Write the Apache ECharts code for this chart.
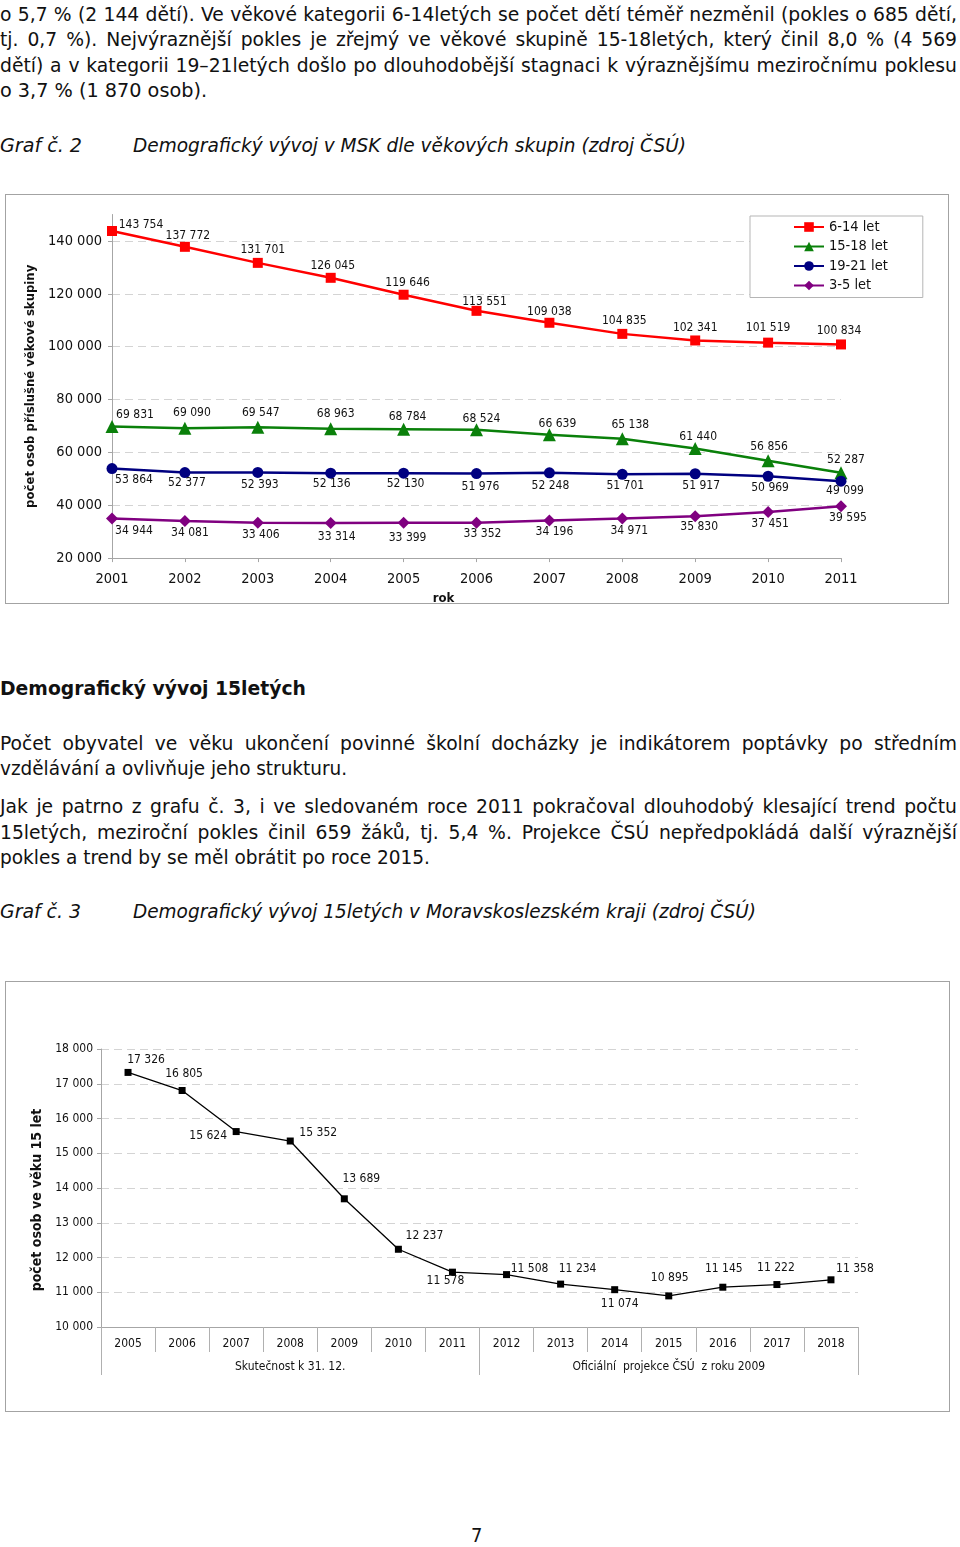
<!DOCTYPE html>
<html><head><meta charset="utf-8">
<script src="https://cdn.jsdelivr.net/npm/echarts@6/dist/echarts.min.js"></script>
<style>
html,body{margin:0;padding:0;background:#fff}
#page{position:relative;width:960px;height:1547px;overflow:hidden;font-family:"DejaVu Sans Condensed","DejaVu Sans",sans-serif;color:#111}
.ln{position:absolute;white-space:pre;font-size:20px;line-height:24px;transform-origin:0 50%;display:inline-block}
.it{font-style:italic}
.b{font-weight:bold}
.box{position:absolute;border:1px solid #a3a3a3;box-sizing:border-box;pointer-events:none}
.chart{position:absolute;left:0;width:960px}
</style></head>
<body>
<div id="page">
<div class="ln j" data-w="957" style="left:0;top:2px">o 5,7 % (2 144 dětí). Ve věkové kategorii 6-14letých se počet dětí téměř nezměnil (pokles o 685 dětí,</div>
<div class="ln j" data-w="957" style="left:0;top:27px">tj. 0,7 %). Nejvýraznější pokles je zřejmý ve věkové skupině 15-18letých, který činil 8,0 % (4 569</div>
<div class="ln j" data-w="957" style="left:0;top:53px">dětí) a v kategorii 19–21letých došlo po dlouhodobější stagnaci k výraznějšímu meziročnímu poklesu</div>
<div class="ln" data-w="207" style="left:0;top:78px">o 3,7 % (1 870 osob).</div>
<div class="ln it" data-w="82" style="left:0;top:133px">Graf č. 2</div>
<div class="ln it" data-w="553" style="left:133px;top:133px">Demografický vývoj v MSK dle věkových skupin (zdroj ČSÚ)</div>

<div class="ln b" data-w="306" style="left:0;top:676px">Demografický vývoj 15letých</div>
<div class="ln j" data-w="957" style="left:0;top:731px">Počet obyvatel ve věku ukončení povinné školní docházky je indikátorem poptávky po středním</div>
<div class="ln" data-w="347" style="left:0;top:756px">vzdělávání a ovlivňuje jeho strukturu.</div>
<div class="ln j" data-w="957" style="left:0;top:794px">Jak je patrno z grafu č. 3, i ve sledovaném roce 2011 pokračoval dlouhodobý klesající trend počtu</div>
<div class="ln j" data-w="957" style="left:0;top:820px">15letých, meziroční pokles činil 659 žáků, tj. 5,4 %. Projekce ČSÚ nepředpokládá další výraznější</div>
<div class="ln" data-w="430" style="left:0;top:845px">pokles a trend by se měl obrátit po roce 2015.</div>
<div class="ln it" data-w="81" style="left:0;top:899px">Graf č. 3</div>
<div class="ln it" data-w="623" style="left:133px;top:899px">Demografický vývoj 15letých v Moravskoslezském kraji (zdroj ČSÚ)</div>
<div class="ln" style="left:471px;top:1523px">7</div>

<div id="c1" class="chart" style="top:190px;height:420px"></div>
<div class="box" style="left:5px;top:194px;width:944px;height:410px"></div>
<div id="c2" class="chart" style="top:975px;height:440px"></div>
<div class="box" style="left:5px;top:981px;width:945px;height:431px"></div>
</div>
<script>
// ---- data: Graf č. 2 ----
const years1 = ['2001','2002','2003','2004','2005','2006','2007','2008','2009','2010','2011'];
const age6to14  = [143754,137772,131701,126045,119646,113551,109038,104835,102341,101519,100834];
const age15to18 = [69831,69090,69547,68963,68784,68524,66639,65138,61440,56856,52287];
const age19to21 = [53864,52377,52393,52136,52130,51976,52248,51701,51917,50969,49099];
const age3to5   = [34944,34081,33406,33314,33399,33352,34196,34971,35830,37451,39595];
const seriesNames1 = ['6-14 let','15-18 let','19-21 let','3-5 let'];
const yTicks1 = [20000,40000,60000,80000,100000,120000,140000];
// ---- data: Graf č. 3 ----
const years2 = ['2005','2006','2007','2008','2009','2010','2011','2012','2013','2014','2015','2016','2017','2018'];
const persons15 = [17326,16805,15624,15352,13689,12237,11578,11508,11234,11074,10895,11145,11222,11358];
const groups2 = ['Skutečnost k 31. 12.','Oficiální  projekce ČSÚ  z roku 2009'];

// ---- label layout (offsets from marker centre) ----
const lab614  = [[29,-6],[3,-11],[5,-13],[2,-12],[4,-12],[8,-9],[0,-11],[2,-13],[0,-13],[0,-15],[-2,-14]];
const lab1518 = [[23,-12],[7,-15],[3,-14],[5,-15],[4,-12],[5,-11],[8,-11],[8,-14],[3,-12],[1,-14],[5,-13]];
const lab1921 = [[22,11],[2,10],[2,12],[1,11],[2,11],[4,13],[1,13],[3,12],[6,12],[2,12],[4,10]];
const lab35   = [[22,12],[5,12],[3,12],[6,14],[4,15],[6,11],[5,11],[7,12],[4,11],[2,12],[7,12]];
const lab15   = [[18,-13],[2,-17],[-28,4],[28,-8],[17,-20],[26,-13],[-7,9],[23,-6],[17,-15],[5,14],[1,-18],[1,-18],[-1,-17],[24,-11]];

const FONT = '"DejaVu Sans Condensed","DejaVu Sans",sans-serif';
const fmt = v => String(v).replace(/\B(?=(\d{3})+(?!\d))/g, ' ');
const mkData = (vals, offs) => vals.map((v, i) => ({ value: v, label: { offset: offs[i] } }));

function lineSeries(name, vals, offs, color, symbol, size, width) {
  return {
    type: 'line', name: name, data: mkData(vals, offs),
    symbol: symbol, symbolSize: size,
    itemStyle: { color: color }, lineStyle: { color: color, width: width },
    label: { show: true, position: 'inside', fontSize: 12, color: '#111', fontFamily: FONT,
             formatter: p => fmt(p.value) }
  };
}

const c1 = echarts.init(document.getElementById('c1'), null, { renderer: 'canvas' });
c1.setOption({
  animation: false,
  textStyle: { fontFamily: FONT },
  grid: { left: 112, right: 119, top: 24.5, bottom: 51 },
  legend: {
    orient: 'vertical', left: 750, top: 26, padding: [3, 35, 4, 43],
    itemGap: 3.5, itemWidth: 30, itemHeight: 12,
    borderColor: '#b5b5b5', borderWidth: 1, backgroundColor: '#fff',
    textStyle: { fontSize: 14.5, color: '#111', lineHeight: 16, fontFamily: FONT },
    data: seriesNames1
  },
  xAxis: {
    type: 'category', data: years1, boundaryGap: false,
    axisLine: { lineStyle: { color: '#a6a6a6' } },
    axisTick: { length: 4, lineStyle: { color: '#a6a6a6' } },
    axisLabel: { fontSize: 14.5, color: '#111', margin: 14 },
    splitLine: { show: false },
    name: 'rok', nameLocation: 'middle', nameGap: 28,
    nameTextStyle: { fontWeight: 'bold', fontSize: 13, color: '#111', padding: [0, 66, 0, 0] }
  },
  yAxis: {
    type: 'value', min: 20000, max: 150000, interval: 20000,
    axisLine: { show: true, lineStyle: { color: '#a6a6a6' } },
    axisTick: { show: true, length: 4, lineStyle: { color: '#a6a6a6' }, customValues: yTicks1 },
    axisLabel: { fontSize: 14.5, color: '#111', margin: 10, formatter: fmt, customValues: yTicks1 },
    splitLine: { show: true,
      lineStyle: { type: [8, 5], width: 1,
        color: ['#d4d4d4','#d4d4d4','#d4d4d4','#d4d4d4','#d4d4d4','#d4d4d4','#d4d4d4','rgba(0,0,0,0)'] } },
    name: 'počet osob příslušné věkové skupiny', nameLocation: 'middle', nameGap: 69,
    nameTextStyle: { fontWeight: 'bold', fontSize: 13, color: '#111' }
  },
  series: [
    lineSeries(seriesNames1[0], age6to14, lab614, '#ff0000', 'rect', 10, 2.5),
    lineSeries(seriesNames1[1], age15to18, lab1518, '#0a800a', 'triangle', 13, 2.5),
    lineSeries(seriesNames1[2], age19to21, lab1921, '#000080', 'circle', 11, 2.5),
    lineSeries(seriesNames1[3], age3to5, lab35, '#800080', 'diamond', 12, 2.5)
  ]
});

const c2 = echarts.init(document.getElementById('c2'), null, { renderer: 'canvas' });
c2.setOption({
  animation: false,
  textStyle: { fontFamily: FONT },
  grid: { left: 101, right: 102, top: 74, bottom: 88 },
  xAxis: [
    { type: 'category', data: years2, position: 'bottom', boundaryGap: true,
      axisLine: { lineStyle: { color: '#a6a6a6' } },
      axisTick: { show: true, interval: 0, length: 25, lineStyle: { color: '#b0b0b0' } },
      axisLabel: { fontSize: 12, color: '#111', margin: 11, interval: 0 },
      splitLine: { show: false } },
    { type: 'category', data: groups2, position: 'bottom', offset: 0, boundaryGap: true,
      axisLine: { show: false },
      axisTick: { show: true, interval: 0, length: 48, lineStyle: { color: '#b0b0b0' } },
      axisLabel: { fontSize: 12, color: '#111', margin: 34, interval: 0 },
      splitLine: { show: false } }
  ],
  yAxis: {
    type: 'value', min: 10000, max: 18000, interval: 1000,
    axisLine: { show: true, lineStyle: { color: '#a6a6a6' } },
    axisTick: { show: true, length: 4, lineStyle: { color: '#a6a6a6' } },
    axisLabel: { fontSize: 12, color: '#111', margin: 8, formatter: fmt },
    splitLine: { show: true, lineStyle: { type: [8, 5], color: '#d4d4d4', width: 1 } },
    name: 'počet osob ve věku 15 let', nameLocation: 'middle', nameGap: 54,
    nameTextStyle: { fontWeight: 'bold', fontSize: 14, color: '#111', padding: [0, 24, 0, 0] }
  },
  series: [
    Object.assign(lineSeries('15 let', persons15, lab15, '#000', 'rect', 7, 1.3), { xAxisIndex: 0 })
  ]
});

// ---- fit text lines to the reference widths ----
function fitText() {
  const lines = Array.from(document.querySelectorAll('.ln[data-w]'));
  lines.forEach(el => { el.style.transform = 'none'; el.style.wordSpacing = '0px'; el._w = el.getBoundingClientRect().width; });
  const ks = lines.filter(el => !el.classList.contains('j') && !el.classList.contains('it') && !el.classList.contains('b'))
                  .map(el => +el.dataset.w / el._w);
  const k = ks.reduce((a, b) => a + b, 0) / ks.length;
  lines.forEach(el => {
    const target = +el.dataset.w;
    if (el.classList.contains('j')) {
      const n = (el.textContent.match(/ /g) || []).length;
      const ws = (target / k - el._w) / n;
      el.style.wordSpacing = ws + 'px';
      el.style.transform = 'scaleX(' + k + ')';
    } else {
      el.style.transform = 'scaleX(' + (target / el._w) + ')';
    }
  });
}
if (document.fonts && document.fonts.ready) document.fonts.ready.then(fitText); else fitText();
fitText();
</script>
</body></html>
